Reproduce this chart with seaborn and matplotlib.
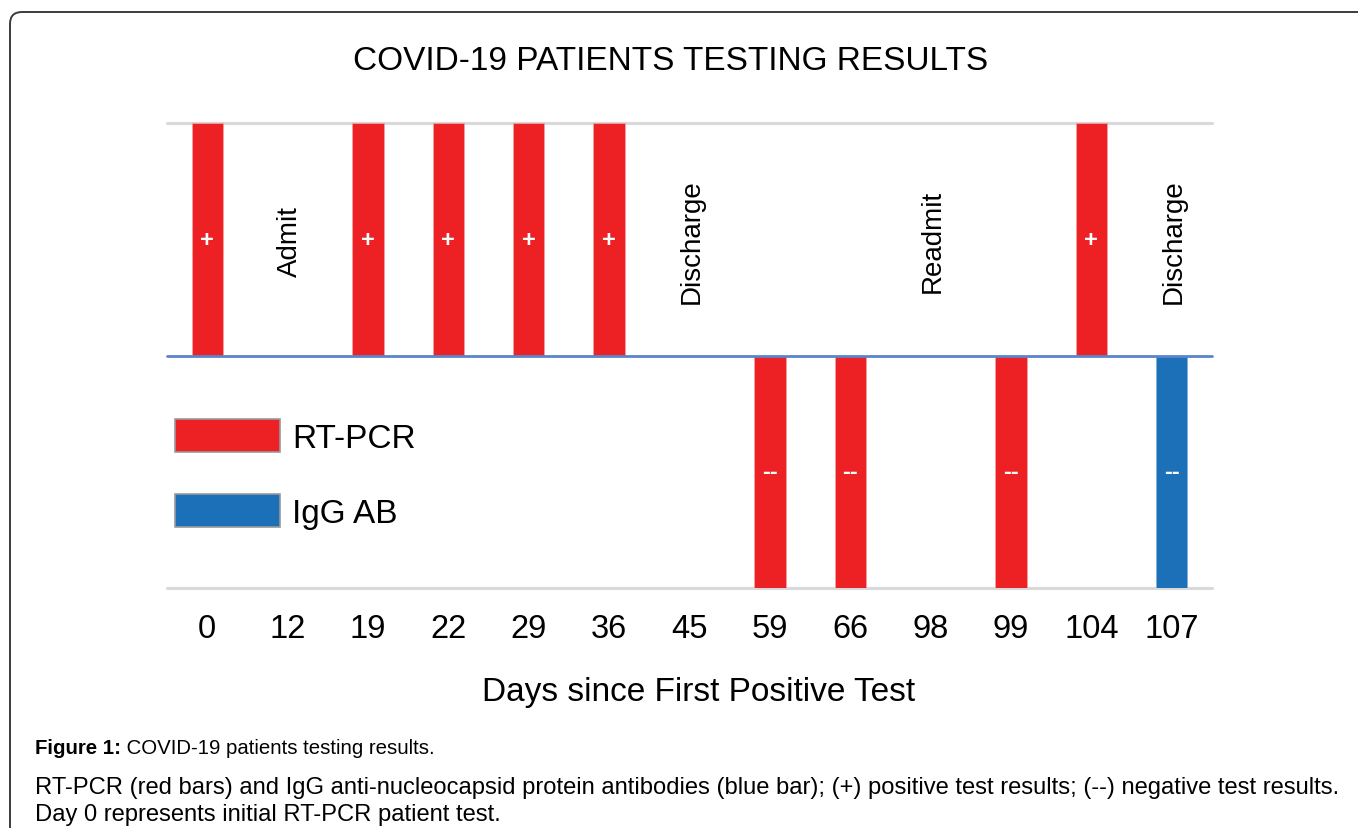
import matplotlib
matplotlib.use("Agg")
import matplotlib.pyplot as plt
import matplotlib.transforms as mtransforms
from matplotlib.patches import FancyBboxPatch, Patch
import seaborn as sns
import pandas as pd

# ---------------- data ----------------
day_labels = ["0", "12", "19", "22", "29", "36", "45", "59", "66", "98", "99", "104", "107"]
bar_days = ["0", "19", "22", "29", "36", "59", "66", "99", "104", "107"]
bar_values = [1, 1, 1, 1, 1, -1, -1, -1, 1, -1]
bar_tests = ["RT-PCR", "RT-PCR", "RT-PCR", "RT-PCR", "RT-PCR",
             "RT-PCR", "RT-PCR", "RT-PCR", "RT-PCR", "IgG AB"]
event_days = ["12", "45", "98", "107"]
event_labels = ["Admit", "Discharge", "Readmit", "Discharge"]
test_types = ["RT-PCR", "IgG AB"]

title = "COVID-19 PATIENTS TESTING RESULTS"
xlabel = "Days since First Positive Test"
caption_bold = "Figure 1:"
caption_1 = " COVID-19 patients testing results."
caption_2 = ("RT-PCR (red bars) and IgG anti-nucleocapsid protein antibodies (blue bar); "
             "(+) positive test results; (--) negative test results.")
caption_3 = "Day 0 represents initial RT-PCR patient test."

RED = "#ED2024"
BLUE = "#1C70B8"
palette = {"RT-PCR": RED, "IgG AB": BLUE}

# ---------------- figure ----------------
sns.set_theme(style="white")
plt.rcParams["font.family"] = ["Liberation Sans", "DejaVu Sans"]
plt.rcParams["text.color"] = "black"

W, H = 1358, 829
DPI = 100
fig = plt.figure(figsize=(W / DPI, H / DPI), dpi=DPI)
fig.patch.set_facecolor("white")

# outer rounded frame (pixel coordinates)
frame = FancyBboxPatch((10, -60), 1400, 816 + 60, boxstyle="round,pad=0,rounding_size=12",
                       transform=mtransforms.IdentityTransform(),
                       facecolor="none", edgecolor="#3c3c3c", linewidth=1.4)
fig.patches.append(frame)

left, right, top, bottom = 167, 1212, 124, 589
ax = fig.add_axes([left / W, 1 - bottom / H, (right - left) / W, (bottom - top) / H])

df = pd.DataFrame({"day": bar_days, "value": bar_values, "test": bar_tests})
sns.barplot(data=df, x="day", y="value", hue="test", order=day_labels,
            hue_order=test_types, palette=palette, dodge=False, width=0.39,
            saturation=1, edgecolor="#f6a0a0", linewidth=0.6, ax=ax, legend=False)
for p in ax.patches:
    fc = p.get_facecolor()
    if abs(fc[2] - 0.72) < 0.05:
        p.set_edgecolor("#7fb0dc")

ax.set_xlim(-0.5, len(day_labels) - 0.5)
ax.set_ylim(-1, 1)
for s in ax.spines.values():
    s.set_visible(False)
ax.set_yticks([])
ax.set_ylabel("")
ax.axhline(1, color="#d9d9d9", lw=2.2, clip_on=False, zorder=0)
ax.axhline(-1, color="#d9d9d9", lw=2.2, clip_on=False, zorder=0)
ax.axhline(0, color="#5b84cc", lw=2.0, clip_on=False, zorder=3)

ax.tick_params(axis="x", length=0, pad=18, labelsize=23.5, colors="black")
ax.set_xlabel(xlabel, fontsize=24, color="black")
ax.xaxis.set_label_coords((699 - left) / (right - left), -(677 - bottom) / (bottom - top))

# sign marks inside bars
pos = {d: i for i, d in enumerate(day_labels)}
for d, v in zip(bar_days, bar_values):
    ax.text(pos[d], v / 2, "+" if v > 0 else "--", color="white", fontsize=17,
            fontweight="bold", ha="center", va="center", zorder=5)

# event annotations
for d, lab in zip(event_days, event_labels):
    ax.text(pos[d] + 0.03, 0.495, lab, rotation=90, ha="center", va="center",
            fontsize=20, color="black")

# legend
handles = [Patch(facecolor=palette[t], edgecolor="#9a9a9a", linewidth=1.2) for t in test_types]
fig.legend(handles, test_types, loc="upper left",
           bbox_to_anchor=(175 / W, 1 - 420 / H), bbox_transform=fig.transFigure,
           frameon=False, fontsize=24, handlelength=3.15, handleheight=1.15,
           handletextpad=0.36, labelspacing=1.2, borderpad=0, borderaxespad=0,
           labelcolor="black")

# title
fig.text(671 / W, 1 - 61 / H, title, ha="center", va="center", fontsize=24, color="black")

# caption
renderer = fig.canvas.get_renderer()
tb = fig.text(35 / W, 1 - 749 / H, caption_bold, ha="left", va="center",
              fontsize=14.7, fontweight="bold", color="black")
bb = tb.get_window_extent(renderer=renderer)
fig.text(bb.x1 / W, 1 - 749 / H, caption_1, ha="left", va="center", fontsize=14.7, color="black")
fig.text(35 / W, 1 - 788 / H, caption_2, ha="left", va="center", fontsize=17.1, color="black")
fig.text(35 / W, 1 - 815 / H, caption_3, ha="left", va="center", fontsize=17.1, color="black")

fig.savefig("out.png", dpi=DPI, facecolor="white")
